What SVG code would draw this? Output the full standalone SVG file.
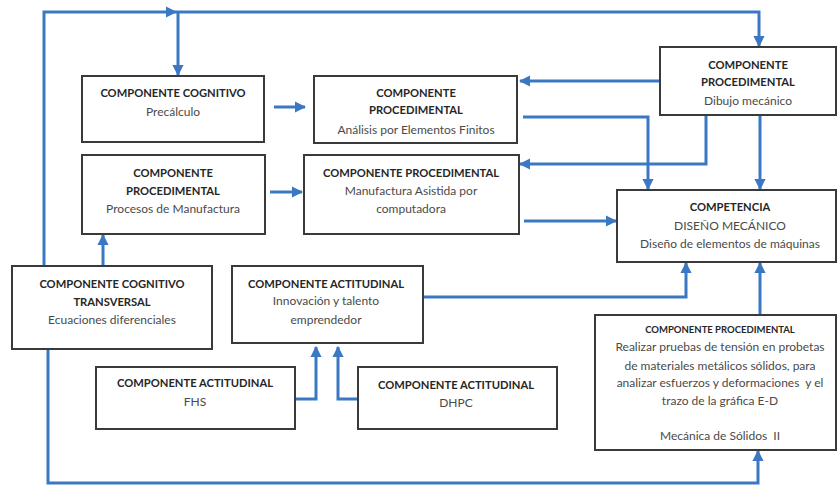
<svg xmlns="http://www.w3.org/2000/svg" width="837" height="490" viewBox="0 0 837 490">
<defs>
<marker id="ah" viewBox="0 0 10 10" refX="9" refY="5" markerWidth="3.8" markerHeight="3.8" markerUnits="strokeWidth" orient="auto">
<path d="M0,0 L10,5 L0,10 Z" fill="#3b78c3"/>
</marker>
<style>
.box{fill:#fff;stroke:#3a3a3a;stroke-width:2}
.t{font-family:Lato,"Open Sans","Liberation Sans",sans-serif;font-size:12px;fill:#4a4a4a;text-anchor:middle}
.b{font-weight:bold;font-size:11.2px;fill:#262626}
.s{font-size:9.5px}
.c{fill:none;stroke:#3b78c3;stroke-width:3;stroke-linejoin:miter}
.a{marker-end:url(#ah)}
</style>
</defs>
<rect width="837" height="490" fill="#fff"/>
<g id="connectors">
<path class="c a" d="M44,266 V12 H176"/>
<path class="c a" d="M176,12 H759 V46"/>
<path class="c a" d="M178,12 V75"/>
<path class="c a" d="M274,107 H305"/>
<path class="c a" d="M660,81 H520"/>
<path class="c a" d="M523,117 H648 V189"/>
<path class="c a" d="M706,115 V164 H520"/>
<path class="c a" d="M760,115 V189"/>
<path class="c a" d="M270,192 H302"/>
<path class="c a" d="M524,221 H616"/>
<path class="c a" d="M103,266 V235"/>
<path class="c a" d="M423,297 H686 V263"/>
<path class="c a" d="M760,315 V263"/>
<path class="c a" d="M295,399 H316 V347"/>
<path class="c a" d="M358,399 H338 V347"/>
<path class="c a" d="M48,349 V483 H758 V451"/>
</g>
<g id="n-precalculo">
<rect class="box" x="82" y="76" width="182" height="66"/>
<text class="t b" x="173" y="97">COMPONENTE COGNITIVO</text>
<text class="t" x="173" y="116">Precálculo</text>
</g>
<g id="n-analisis">
<rect class="box" x="314" y="76" width="203" height="67"/>
<text class="t b" x="416" y="97">COMPONENTE</text>
<text class="t b" x="416" y="114">PROCEDIMENTAL</text>
<text class="t" x="416" y="134">Análisis por Elementos Finitos</text>
</g>
<g id="n-dibujo">
<rect class="box" x="660" y="47" width="176" height="68"/>
<text class="t b" x="748" y="69">COMPONENTE</text>
<text class="t b" x="748" y="86">PROCEDIMENTAL</text>
<text class="t" x="748" y="105">Dibujo mecánico</text>
</g>
<g id="n-procesos">
<rect class="box" x="82" y="155" width="183" height="79"/>
<text class="t b" x="173" y="177">COMPONENTE</text>
<text class="t b" x="173" y="195">PROCEDIMENTAL</text>
<text class="t" x="173" y="213">Procesos de Manufactura</text>
</g>
<g id="n-manufactura">
<rect class="box" x="304" y="155" width="215" height="79"/>
<text class="t b" x="411" y="177">COMPONENTE PROCEDIMENTAL</text>
<text class="t" x="411" y="195">Manufactura Asistida por</text>
<text class="t" x="411" y="213">computadora</text>
</g>
<g id="n-competencia">
<rect class="box" x="617" y="190" width="219" height="72"/>
<text class="t b" x="730" y="211">COMPETENCIA</text>
<text class="t" x="730" y="230">DISEÑO MECÁNICO</text>
<text class="t" x="730" y="248">Diseño de elementos de máquinas</text>
</g>
<g id="n-transversal">
<rect class="box" x="12" y="266" width="200" height="83"/>
<text class="t b" x="112" y="288">COMPONENTE COGNITIVO</text>
<text class="t b" x="112" y="306">TRANSVERSAL</text>
<text class="t" x="112" y="324">Ecuaciones diferenciales</text>
</g>
<g id="n-innovacion">
<rect class="box" x="232" y="266" width="191" height="77"/>
<text class="t b" x="326" y="288">COMPONENTE ACTITUDINAL</text>
<text class="t" x="326" y="305">Innovación y talento</text>
<text class="t" x="326" y="324">emprendedor</text>
</g>
<g id="n-fhs">
<rect class="box" x="96" y="367" width="199" height="62"/>
<text class="t b" x="195" y="387">COMPONENTE ACTITUDINAL</text>
<text class="t" x="195" y="406">FHS</text>
</g>
<g id="n-dhpc">
<rect class="box" x="358" y="367" width="199" height="62"/>
<text class="t b" x="456" y="389">COMPONENTE ACTITUDINAL</text>
<text class="t" x="456" y="407">DHPC</text>
</g>
<g id="n-mecanica">
<rect class="box" x="595" y="315" width="241" height="135"/>
<text class="t b s" x="720" y="333">COMPONENTE PROCEDIMENTAL</text>
<text class="t" x="720" y="351">Realizar pruebas de tensión en probetas</text>
<text class="t" x="720" y="370">de materiales metálicos sólidos, para</text>
<text class="t" x="720" y="387" xml:space="preserve">analizar esfuerzos y deformaciones  y el</text>
<text class="t" x="720" y="405">trazo de la gráfica E-D</text>
<text class="t" x="720" y="440" xml:space="preserve">Mecánica de Sólidos  II</text>
</g>
</svg>
